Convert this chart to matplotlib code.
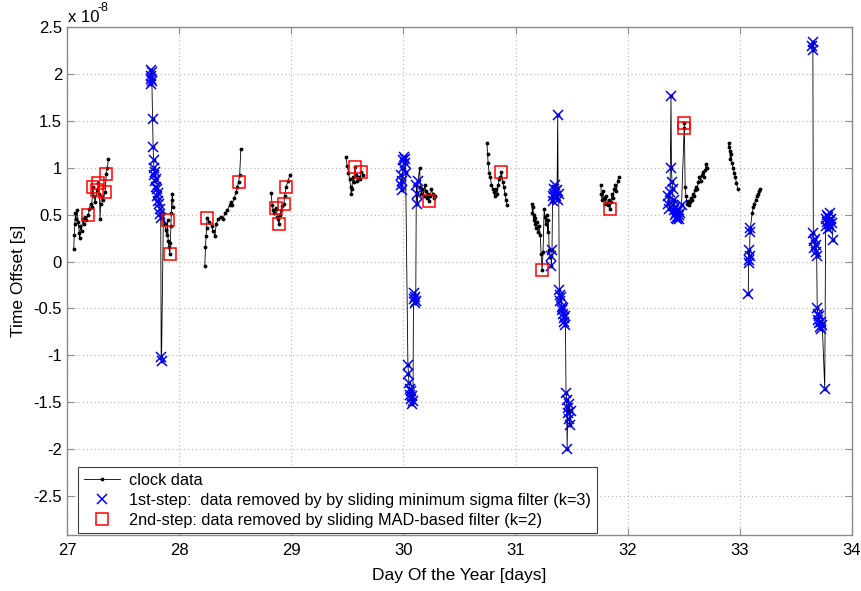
import numpy as np
import matplotlib
matplotlib.use('Agg')
from matplotlib import pyplot as plt

plt.rcParams['font.family'] = ['Liberation Sans', 'DejaVu Sans']
plt.rcParams['axes.unicode_minus'] = False

# clock samples that survive both filters (day of year, offset in 1e-8 s)
clock_day = [
    27.06, 27.065, 27.07, 27.075, 27.08, 27.09, 27.10, 27.11, 27.115, 27.12, 27.13, 27.14, 27.15, 27.16,
    27.17, 27.20, 27.21, 27.22, 27.24, 27.25, 27.29, 27.295, 27.30, 27.31, 27.32, 27.36, 27.37,
    27.860, 27.870, 27.880, 27.890, 27.902, 27.908, 27.922, 27.926, 27.930, 27.935, 27.940, 27.945,
    28.229, 28.235, 28.24, 28.245, 28.27, 28.29, 28.30, 28.32, 28.33, 28.35, 28.37, 28.39, 28.41, 28.43,
    28.45, 28.46, 28.47, 28.49, 28.51, 28.52, 28.54, 28.55,
    28.82, 28.83, 28.84, 28.85, 28.86, 28.875, 28.88, 28.90, 28.91, 28.92, 28.94, 28.97, 28.99,
    29.485, 29.50, 29.51, 29.52, 29.53, 29.535, 29.54, 29.55, 29.56, 29.58, 29.59, 29.60, 29.61, 29.64,
    30.145, 30.150, 30.160, 30.170, 30.180, 30.190, 30.200, 30.210, 30.220, 30.240, 30.250, 30.260, 30.270, 30.280,
    30.745, 30.750, 30.755, 30.765, 30.775, 30.785, 30.795, 30.805, 30.815, 30.825, 30.835, 30.845, 30.855,
    30.865, 30.885, 30.895, 30.905, 30.915, 30.925,
    31.145, 31.150, 31.155, 31.160, 31.165, 31.170, 31.175, 31.180, 31.190, 31.200, 31.210, 31.220, 31.228,
    31.245, 31.255, 31.262, 31.270, 31.278, 31.285, 31.292, 31.300, 31.308,
    31.760, 31.765, 31.770, 31.780, 31.790, 31.800, 31.810, 31.820, 31.830, 31.850, 31.860, 31.870, 31.880,
    31.890, 31.900, 31.910, 31.920,
    32.512, 32.520, 32.528, 32.536, 32.544, 32.552, 32.560, 32.570, 32.580, 32.590, 32.600, 32.610, 32.620,
    32.630, 32.640, 32.650, 32.660, 32.670, 32.680, 32.690, 32.700, 32.710,
    32.900, 32.905, 32.910, 32.915, 32.920, 32.930, 32.940, 32.950, 32.960, 32.970, 32.980,
    33.110, 33.120, 33.130, 33.140, 33.150, 33.160, 33.170, 33.180,
]
clock_offset = [
    0.13, 0.28, 0.40, 0.52, 0.46, 0.55, 0.42, 0.30, 0.25, 0.38, 0.33, 0.45, 0.40, 0.48,
    0.44, 0.56, 0.62, 0.58, 0.70, 0.64, 0.72, 0.45, 0.62, 0.70, 0.66, 1.00, 1.10,
    0.52, 0.40, 0.34, 0.28, 0.22, 0.16, 0.20, 0.38, 0.52, 0.66, 0.72, 0.58,
    -0.05, 0.16, 0.27, 0.36, 0.42, 0.38, 0.33, 0.27, 0.40, 0.46, 0.48, 0.45, 0.52, 0.55,
    0.60, 0.64, 0.60, 0.68, 0.74, 0.80, 0.92, 1.20,
    0.73, 0.60, 0.55, 0.52, 0.56, 0.48, 0.45, 0.50, 0.55, 0.59, 0.70, 0.86, 0.93,
    1.12, 1.02, 0.95, 0.88, 0.80, 0.72, 0.78, 0.90, 0.85, 0.92, 0.86, 0.90, 0.88, 0.92,
    1.00, 0.80, 0.72, 0.78, 0.70, 0.82, 0.75, 0.68, 0.72, 0.70, 0.78, 0.72, 0.68, 0.70,
    1.27, 1.15, 1.05, 0.95, 0.90, 0.82, 0.78, 0.74, 0.70, 0.78, 0.72, 0.82, 0.88,
    0.90, 0.85, 0.80, 0.72, 0.66, 0.60,
    0.62, 0.52, 0.58, 0.44, 0.50, 0.40, 0.47, 0.36, 0.42, 0.32, 0.38, 0.28, 0.08,
    0.10, 0.56, 0.48, 0.40, 0.50, 0.32, 0.44, 0.12, 0.05,
    0.82, 0.72, 0.66, 0.75, 0.68, 0.62, 0.70, 0.60, 0.66, 0.64, 0.72, 0.68, 0.78,
    0.82, 0.75, 0.86, 0.90,
    0.80, 0.70, 0.62, 0.65, 0.60, 0.64, 0.68, 0.66, 0.72, 0.70, 0.76, 0.80, 0.78,
    0.85, 0.90, 0.86, 0.92, 0.96, 0.90, 0.98, 1.04, 1.00,
    1.22, 1.27, 1.18, 1.10, 1.15, 1.05, 1.00, 0.95, 0.90, 0.84, 0.78,
    0.52, 0.58, 0.62, 0.66, 0.70, 0.72, 0.75, 0.77,
]

# removed in the 1st step (sliding minimum sigma filter, k=3)
sigma_day = [
    27.745, 27.748, 27.750, 27.752, 27.755, 27.757, 27.763, 27.768, 27.772, 27.776, 27.780, 27.784, 27.788,
    27.792, 27.796, 27.800, 27.805, 27.810, 27.815, 27.820, 27.826, 27.832, 27.836, 27.840, 27.843,
    29.975, 29.980, 29.985, 29.990, 29.995, 30.000, 30.005, 30.010, 30.015, 30.020, 30.040, 30.045, 30.050,
    30.055, 30.060, 30.065, 30.070, 30.075, 30.080, 30.085, 30.090, 30.095, 30.100, 30.105, 30.110, 30.115,
    30.120, 30.125, 30.130,
    31.315, 31.320, 31.325, 31.330, 31.335, 31.340, 31.345, 31.350, 31.355, 31.360, 31.365, 31.370, 31.376,
    31.380, 31.385, 31.390, 31.395, 31.400, 31.405, 31.410, 31.415, 31.420, 31.425, 31.430, 31.435, 31.440,
    31.445, 31.450, 31.455, 31.460, 31.465, 31.470, 31.475, 31.480, 31.485, 31.490,
    32.355, 32.362, 32.370, 32.378, 32.386, 32.390, 32.395, 32.400, 32.405, 32.410, 32.415, 32.420, 32.425,
    32.430, 32.435, 32.440, 32.445, 32.450, 32.455, 32.460, 32.470, 32.480,
    33.075, 33.078, 33.081, 33.084, 33.087, 33.090, 33.094,
    33.645, 33.648, 33.651, 33.655, 33.660, 33.665, 33.670, 33.675, 33.680, 33.685, 33.690, 33.695, 33.700,
    33.705, 33.710, 33.715, 33.720, 33.725, 33.735, 33.757, 33.765, 33.770, 33.775, 33.780, 33.785, 33.790,
    33.795, 33.800, 33.805, 33.810, 33.815, 33.820, 33.830,
]
sigma_offset = [
    1.95, 2.05, 1.90, 1.98, 2.02, 1.93, 1.52, 1.22, 1.08, 1.00, 0.92, 0.96, 0.86,
    0.88, 0.80, 0.77, 0.70, 0.73, 0.65, 0.61, 0.56, 0.51, 0.47, -1.02, -1.06,
    0.82, 0.92, 0.76, 0.86, 1.00, 1.08, 1.12, 1.05, 1.10, 0.95, -1.10, -1.20, -1.30,
    -1.36, -1.42, -1.38, -1.47, -1.44, -1.52, -1.49, -0.40, -0.34, -0.44, -0.38, -0.42, 0.82,
    0.72, 0.62, 0.86,
    0.06, -0.05, 0.12, 0.70, 0.65, 0.78, 0.72, 0.82, 0.68, 0.75, 0.70, 0.76, 1.57,
    0.66, 0.72, -0.30, -0.36, -0.42, -0.38, -0.48, -0.52, -0.56, -0.50, -0.60, -0.64, -0.58,
    -0.68, -1.40, -1.48, -2.00, -1.56, -1.62, -1.52, -1.68, -1.74, -1.60,
    0.62, 0.70, 0.56, 0.74, 1.77, 1.00, 0.85, 0.78, 0.60, 0.66, 0.55, 0.50, 0.58,
    0.47, 0.52, 0.45, 0.48, 0.55, 0.50, 0.46, 0.52, 0.60,
    -0.35, 0.02, 0.12, -0.02, 0.06, 0.32, 0.36,
    2.30, 2.35, 2.26, 0.30, 0.22, 0.14, 0.24, 0.10, 0.18, 0.06, -0.50, -0.56, -0.62,
    -0.58, -0.66, -0.70, -0.64, -0.72, -0.68, -1.36, 0.45, 0.38, 0.50, 0.42, 0.35, 0.48,
    0.40, 0.52, 0.44, 0.37, 0.46, 0.41, 0.23,
]

# removed in the 2nd step (sliding MAD-based filter, k=2)
mad_day = [27.19, 27.23, 27.27, 27.28, 27.34, 27.35, 27.897, 27.917, 28.25, 28.53, 28.868, 28.89,
           28.935, 28.955, 29.565, 29.625, 30.227, 30.874, 31.237, 31.842, 32.503, 32.505]
mad_offset = [0.50, 0.80, 0.76, 0.84, 0.74, 0.94, 0.44, 0.08, 0.47, 0.85, 0.57, 0.40,
              0.62, 0.80, 1.01, 0.96, 0.65, 0.96, -0.09, 0.56, 1.43, 1.48]

# full clock record in time order, broken between tracking passes
all_day = np.concatenate([clock_day, sigma_day, mad_day])
all_off = np.concatenate([clock_offset, sigma_offset, mad_offset])
order = np.argsort(all_day, kind='stable')
line_day = all_day[order]
line_off = all_off[order]
breaks = np.where(np.diff(line_day) > 0.06)[0] + 1
line_day = np.insert(line_day, breaks, np.nan)
line_off = np.insert(line_off, breaks, np.nan)

fig = plt.figure(figsize=(8.62, 5.91), dpi=100)
ax = fig.add_axes([0.0777, 0.0947, 0.9107, 0.8588])

ax.plot(line_day, line_off, '-', color='black', lw=0.6, marker='.', ms=3.5,
        label='clock data')
ax.plot(sigma_day, sigma_offset, 'x', color='#0000ff', ms=7, mew=1.1, ls='none',
        label='1st-step:  data removed by by sliding minimum sigma filter (k=3)')
ax.plot(mad_day, mad_offset, 's', color='#ff0000', mfc='none', ms=8, mew=1.1, ls='none',
        label='2nd-step: data removed by sliding MAD-based filter (k=2)')

ax.set_xlim(27, 34)
ax.set_ylim(-2.92, 2.5)
ax.set_xticks(range(27, 35))
yt = np.arange(-2.5, 2.51, 0.5)
ax.set_yticks(yt)
ax.set_yticklabels(['%g' % v for v in yt])

ax.grid(True, color='#b4b4b4', linestyle=(0, (1, 2.5)), lw=0.8)
for s in ax.spines.values():
    s.set_color('#8c8c8c')
    s.set_linewidth(1.0)
ax.tick_params(direction='in', top=True, right=True, length=5, color='#8c8c8c',
               labelsize=12, labelcolor='black')
ax.tick_params(axis='x', pad=6)

ax.set_xlabel('Day Of the Year [days]', fontsize=12.5)
ax.set_ylabel('Time Offset [s]', fontsize=12.5)
ax.xaxis.set_label_coords(0.5, -0.065)
ax.yaxis.set_label_coords(-0.052, 0.5)

fig.text(68 / 862, 1 - 17 / 591, 'x 10', fontsize=12, va='center', ha='left')
fig.text(98 / 862, 1 - 8 / 591, '-8', fontsize=9, va='center', ha='left')

leg = ax.legend(loc='lower left', bbox_to_anchor=(0.0144, 0.0034), borderaxespad=0,
                fontsize=11.7, fancybox=False, framealpha=1, edgecolor='#404040',
                numpoints=1, handlelength=2.2, handletextpad=0.6,
                labelspacing=0.3, borderpad=0.35)
leg.get_frame().set_linewidth(0.8)

fig.savefig('out.png', dpi=100)
